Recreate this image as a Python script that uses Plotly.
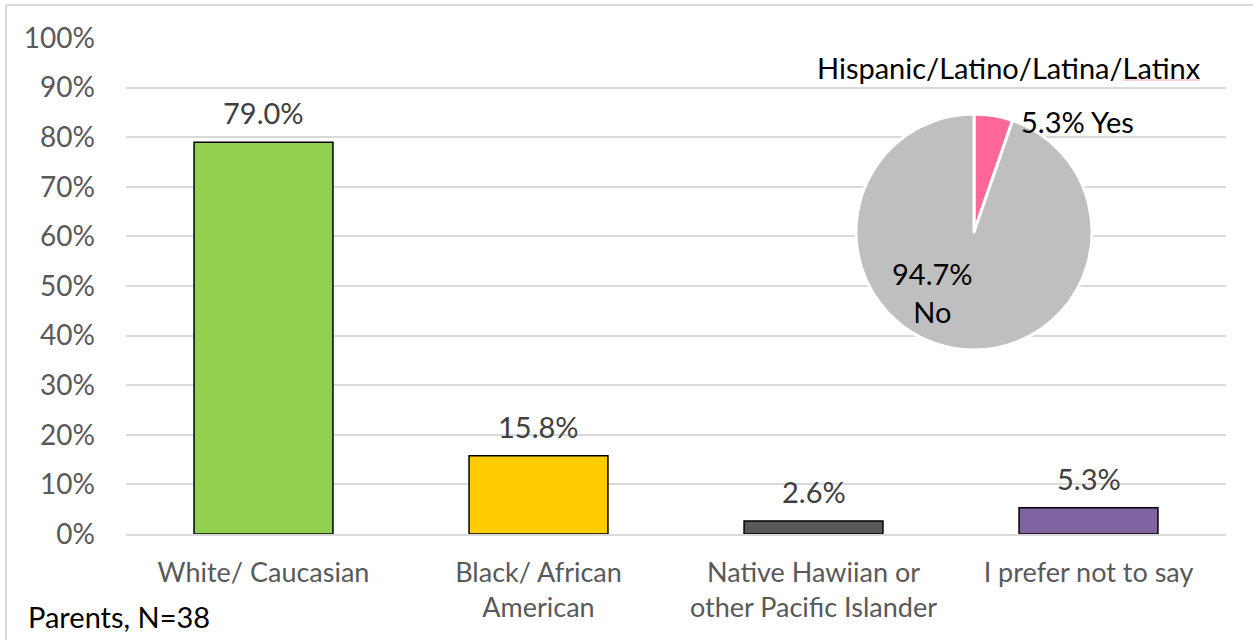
import plotly.graph_objects as go

# bar data (percent of parents)
categories = ["White/ Caucasian", "Black/ African<br>American",
              "Native Hawiian or<br>other Pacific Islander", "I prefer not to say"]
values = [79.0, 15.8, 2.6, 5.3]
bar_colors = ["#92D050", "#FFCC00", "#595959", "#8064A2"]

# pie inset: Hispanic/Latino
pie_labels = ["Yes", "No"]
pie_values = [5.3, 94.7]
pie_colors = ["#FF6699", "#BFBFBF"]

FONT = "Lato, Carlito, Calibri, sans-serif"

# plot area in pixels
W, H = 1253, 640
L, R, T, B = 126, 1226, 38, 534


def px_x(x):
    return (x - L) / (R - L)


def px_y(y):
    return (B - y) / (B - T)


fig = go.Figure()
fig.add_trace(go.Bar(
    x=categories, y=values,
    marker=dict(color=bar_colors, line=dict(color="#000000", width=1.5)),
    width=0.505,
    hoverinfo="skip",
))

fig.add_trace(go.Pie(
    labels=pie_labels, values=pie_values,
    marker=dict(colors=pie_colors, line=dict(color="#FFFFFF", width=3)),
    sort=False, direction="clockwise", rotation=0,
    textinfo="none", hoverinfo="skip", showlegend=False,
    domain=dict(x=[px_x(856), px_x(1092)], y=[px_y(350), px_y(114)]),
))

# data labels above bars
for c, v in zip(categories, values):
    fig.add_annotation(x=c, y=v, text=f"{v:.1f}%", showarrow=False,
                       yanchor="bottom", yshift=10,
                       font=dict(family=FONT, size=29, color="#404040"))

# pie labels
fig.add_annotation(xref="paper", yref="paper", x=px_x(1019), y=px_y(122),
                   text=f"{pie_values[0]:.1f}% {pie_labels[0]}", showarrow=False,
                   xanchor="left", yanchor="middle",
                   font=dict(family=FONT, size=29, color="#000000"))
fig.add_annotation(xref="paper", yref="paper", x=px_x(932), y=px_y(292),
                   text=f"{pie_values[1]:.1f}%<br>{pie_labels[1]}", showarrow=False,
                   xanchor="center", yanchor="middle",
                   font=dict(family=FONT, size=29, color="#000000"))
fig.add_annotation(xref="paper", yref="paper", x=px_x(1009), y=px_y(68),
                   text="Hispanic/Latino/Latina/Latinx", showarrow=False,
                   xanchor="center", yanchor="middle",
                   font=dict(family=FONT, size=29, color="#000000"))
fig.add_annotation(xref="paper", yref="paper", x=px_x(26), y=px_y(616),
                   text="Parents, N=38", showarrow=False,
                   xanchor="left", yanchor="middle",
                   font=dict(family=FONT, size=29, color="#000000"))

# outer frame (left and top edges) + spellcheck underline
fig.add_shape(type="line", xref="paper", yref="paper",
              x0=px_x(6), x1=px_x(6), y0=px_y(5), y1=px_y(645),
              line=dict(color="#D9D9D9", width=2))
fig.add_shape(type="line", xref="paper", yref="paper",
              x0=px_x(6), x1=px_x(1260), y0=px_y(5), y1=px_y(5),
              line=dict(color="#D9D9D9", width=2))
fig.add_shape(type="line", xref="paper", yref="paper",
              x0=px_x(1123), x1=px_x(1200), y0=px_y(80), y1=px_y(80),
              line=dict(color="#F4A6A6", width=1))

fig.update_layout(
    width=W, height=H,
    margin=dict(l=L, r=W - R, t=T, b=H - B),
    paper_bgcolor="white", plot_bgcolor="white",
    showlegend=False,
    font=dict(family=FONT, size=27, color="#595959"),
    bargap=0.495,
)
fig.update_yaxes(range=[0, 100], dtick=10, ticksuffix="%",
                 tickfont=dict(size=28),
                 showgrid=True, gridcolor="#D9D9D9", gridwidth=1.5,
                 zeroline=False, showline=False, ticks="",
                 ticklabelstandoff=30, fixedrange=True)
fig.update_xaxes(showgrid=False, showline=True, linecolor="#D9D9D9", linewidth=1.5,
                 ticks="", ticklabelstandoff=14, fixedrange=True)

# page body has a default 8px margin; drop it so the figure sits at 0,0
fig.write_html("out.html", config={"displayModeBar": False},
               post_script="document.body.style.margin='0';")
